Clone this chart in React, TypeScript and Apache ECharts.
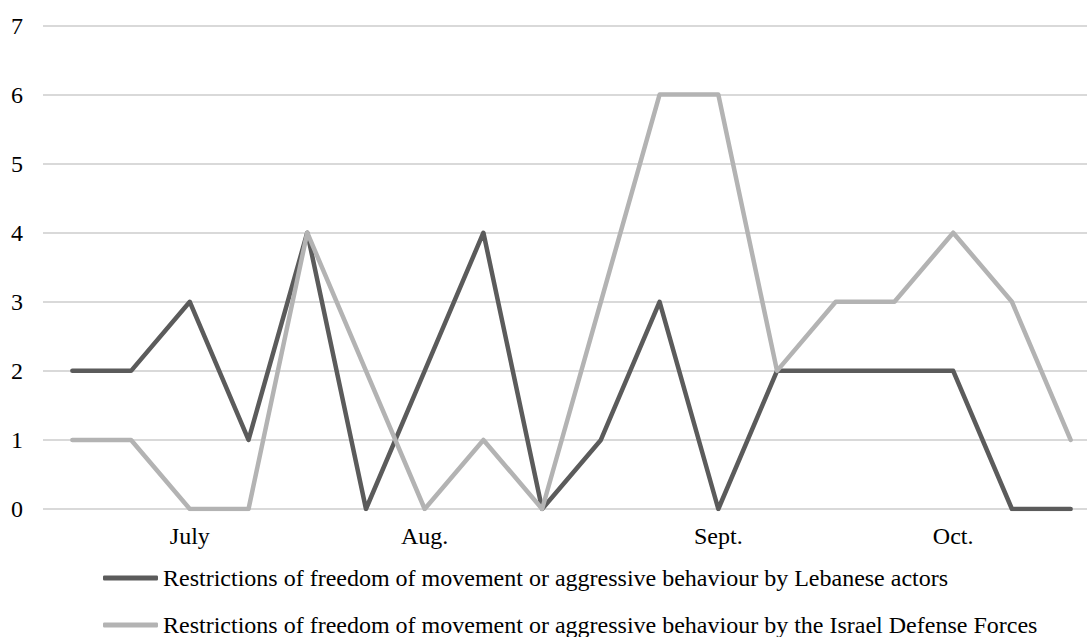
import React, { useEffect, useRef } from "react";
import * as echarts from "echarts";

// Weekly periods; only the month markers carry a label.
const periods: string[] = [
  "", "", "July", "", "", "", "Aug.", "", "", "", "", "Sept.", "", "", "", "Oct.", "", "",
];

const lebaneseName =
  "Restrictions of freedom of movement or aggressive behaviour by Lebanese actors";
const idfName =
  "Restrictions of freedom of movement or aggressive behaviour by the Israel Defense Forces";

const lebaneseValues: number[] = [2, 2, 3, 1, 4, 0, 2, 4, 0, 1, 3, 0, 2, 2, 2, 2, 0, 0];
const idfValues: number[] = [1, 1, 0, 0, 4, 2, 0, 1, 0, 3, 6, 6, 2, 3, 3, 4, 3, 1];

const yTicks = { min: 0, max: 7, interval: 1 };

const FONT = "'Liberation Serif', 'Times New Roman', serif";
const DARK = "#5b5b5b";
const LIGHT = "#b3b3b3";
const GRID = "#d9d9d9";

export default function App() {
  const ref = useRef<HTMLDivElement>(null);

  useEffect(() => {
    if (!ref.current) return;
    const chart = echarts.init(ref.current, undefined, { renderer: "svg" });

    const legendBase = {
      orient: "horizontal" as const,
      left: 103,
      padding: 0,
      itemWidth: 55,
      itemHeight: 5,
      icon: "roundRect",
      selectedMode: false,
      textStyle: { fontFamily: FONT, fontSize: 24, color: "#000", lineHeight: 27 },
    };

    chart.setOption({
      animation: false,
      backgroundColor: "#fff",
      textStyle: { fontFamily: FONT },
      // The plot area runs past the right edge, so the last column is cut.
      grid: {
        left: 43,
        top: 25.5,
        width: 1057,
        height: 483.5,
        outerBoundsMode: "none",
        containLabel: false,
      },
      legend: [
        { ...legendBase, top: 564.5, data: [lebaneseName] },
        { ...legendBase, top: 611.5, data: [idfName] },
      ],
      xAxis: {
        type: "category",
        data: periods,
        boundaryGap: true,
        axisLine: { show: false },
        axisTick: { show: false },
        axisLabel: {
          interval: 0,
          margin: 15,
          fontFamily: FONT,
          fontSize: 24,
          color: "#000",
        },
      },
      yAxis: {
        type: "value",
        min: yTicks.min,
        max: yTicks.max,
        interval: yTicks.interval,
        axisLine: { show: false },
        axisTick: { show: false },
        axisLabel: { margin: 20, fontFamily: FONT, fontSize: 24, color: "#000" },
        splitLine: { lineStyle: { color: GRID, width: 2 } },
      },
      series: [
        {
          name: lebaneseName,
          type: "line",
          data: lebaneseValues,
          symbol: "none",
          color: DARK,
          lineStyle: { color: DARK, width: 4.5, cap: "round", join: "round" },
        },
        {
          name: idfName,
          type: "line",
          data: idfValues,
          symbol: "none",
          color: LIGHT,
          lineStyle: { color: LIGHT, width: 4.5, cap: "round", join: "round" },
        },
      ],
    });

    return () => chart.dispose();
  }, []);

  return (
    <div
      ref={ref}
      style={{ position: "fixed", left: 0, top: 0, width: 1087, height: 637 }}
    />
  );
}
